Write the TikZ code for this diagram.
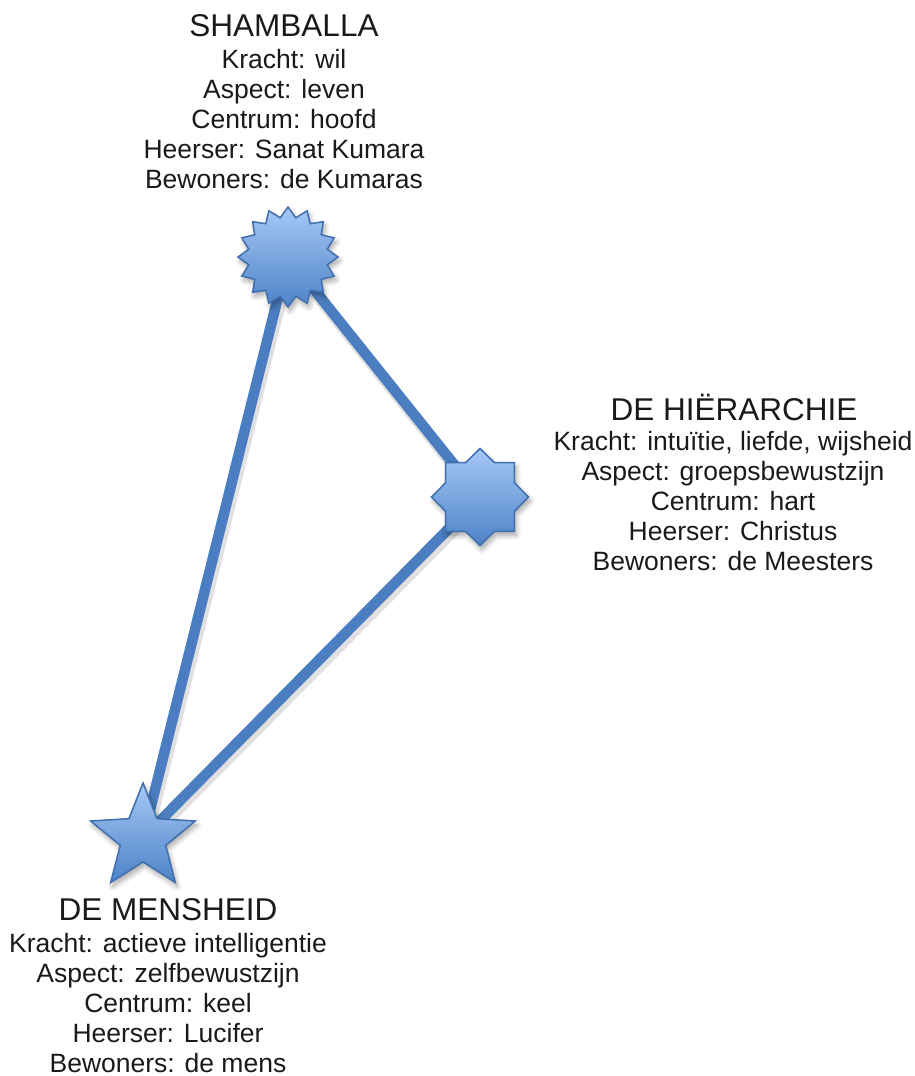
\documentclass[tikz,border=0pt]{standalone}
\usepackage{fontspec}
\setmainfont{Liberation Sans}
\usetikzlibrary{shapes.geometric,shadows.blur}
\pgfdeclarelayer{bg}
\pgfsetlayers{bg,main}
\definecolor{lineblue}{HTML}{4A7EC0}
\definecolor{startop}{HTML}{A6C8F5}
\definecolor{starbot}{HTML}{4D83C8}
\definecolor{starline}{HTML}{3F6FAE}
\definecolor{txt}{HTML}{1A1A1A}
\tikzset{
  starbox/.style={star, inner sep=0pt, draw=starline, line width=1.5pt,
    top color=startop, bottom color=starbot,
    blur shadow={shadow xshift=2pt, shadow yshift=-4pt, shadow opacity=35, shadow blur steps=8, shadow blur radius=5pt}},
  link/.style={draw=lineblue, line width=10.5pt},
  linkshadow/.style={draw=black, opacity=0.12, line width=13pt, transform canvas={xshift=2pt, yshift=-4pt}},
  titletext/.style={anchor=base, text=txt, inner sep=0pt, font=\fontsize{31.5}{36}\selectfont},
  infotext/.style={anchor=base, text=txt, inner sep=0pt, font=\fontsize{26.5}{30}\selectfont},
}
\begin{document}
\begin{tikzpicture}[x=1pt, y=-1pt]
\useasboundingbox (0,0) rectangle (914,1076);

% stars
\node[starbox, star points=16, star point ratio=1.25, minimum size=100pt] (sham) at (288,257) {};
\node[starbox, star points=8, star point ratio=1.3, minimum size=97pt] (hier) at (480,497) {};
\node[starbox, star points=5, star point ratio=2.3, minimum size=110pt] (mens) at (143,838) {};

% connectors behind the stars
\begin{pgfonlayer}{bg}
  \draw[linkshadow] (sham.center) -- (hier.center);
  \draw[linkshadow] (sham.center) -- (mens.center);
  \draw[linkshadow] (hier.center) -- (mens.center);
  \draw[link] (sham.center) -- (hier.center);
  \draw[link] (sham.center) -- (mens.center);
  \draw[link] (hier.center) -- (mens.center);
\end{pgfonlayer}

% Shamballa
\node[titletext] (shamt) at (284,36) {SHAMBALLA};
\foreach \t [count=\i] in {Kracht: wil, Aspect: leven, Centrum: hoofd, Heerser: Sanat Kumara, Bewoners: de Kumaras}
  \node[infotext] (shami\i) at (284,38+30*\i) {\t};

% De Hierarchie
\node[titletext] (hiert) at (734,420) {DE HIËRARCHIE};
\foreach \t [count=\i] in {{Kracht: intuïtie, liefde, wijsheid}, Aspect: groepsbewustzijn, Centrum: hart, Heerser: Christus, Bewoners: de Meesters}
  \node[infotext] (hieri\i) at (733,420+30*\i) {\t};

% De Mensheid
\node[titletext] (menst) at (168,920) {DE MENSHEID};
\foreach \t [count=\i] in {Kracht: actieve intelligentie, Aspect: zelfbewustzijn, Centrum: keel, Heerser: Lucifer, Bewoners: de mens}
  \node[infotext] (mensi\i) at (168,922+30*\i) {\t};
\end{tikzpicture}
\end{document}
